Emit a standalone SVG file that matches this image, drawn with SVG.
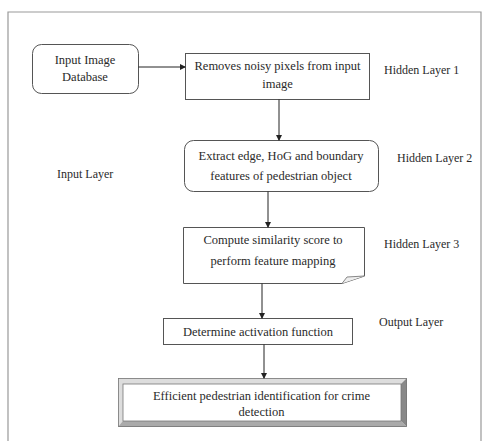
<svg xmlns="http://www.w3.org/2000/svg" width="482" height="441" viewBox="0 0 482 441">
<defs>
<marker id="ah" markerWidth="6" markerHeight="6" refX="5" refY="3" orient="auto" markerUnits="userSpaceOnUse">
<path d="M0,0 L6,3 L0,6 z" fill="#222"/>
</marker>
<style>
text{font-family:'Liberation Serif','DejaVu Serif','Times New Roman',serif;font-size:12.5px;fill:#2a2a2a}
.t{text-anchor:middle}
.l{font-size:12px}
.b{fill:#fff;stroke:#555;stroke-width:1}
.c{stroke:#222;stroke-width:1;fill:none;marker-end:url(#ah)}
</style>
</defs>
<rect width="482" height="441" fill="#fff"/>
<g id="frame">
<path d="M8,441 L8,12 L481,12 L481,441" fill="none" stroke="#999" stroke-width="1.2"/>
</g>
<g id="n1">
<rect class="b" x="32.5" y="44.5" width="106" height="49" rx="9"/>
<text class="t" x="85" y="64">Input Image</text>
<text class="t" x="85" y="81">Database</text>
</g>
<g id="n2">
<rect class="b" x="185.5" y="53.5" width="184" height="46"/>
<text class="t" x="277.5" y="70">Removes noisy pixels from input</text>
<text class="t" x="277.5" y="88">image</text>
</g>
<g id="n3">
<rect class="b" x="184.5" y="140.5" width="194" height="51" rx="9"/>
<text class="t" x="281" y="160">Extract edge, HoG and boundary</text>
<text class="t" x="281" y="180">features of pedestrian object</text>
</g>
<g id="n4">
<path class="b" d="M183.5,227.5 H364.5 V276 L342,283.5 H183.5 Z"/>
<path d="M342,283.5 L347,277 L364.5,276" fill="#eee" stroke="#888" stroke-width="1"/>
<text class="t" x="273" y="244">Compute similarity score to</text>
<text class="t" x="273" y="265">perform feature mapping</text>
</g>
<g id="n5">
<rect class="b" x="163.5" y="318.5" width="189" height="26"/>
<text class="t" x="258" y="336">Determine activation function</text>
</g>
<g id="n6">
<rect x="118" y="378" width="289" height="49" fill="#ddd"/>
<polygon points="401,384 407,378 407,427 401,421" fill="#888"/>
<polygon points="123,421 401,421 407,427 118,427" fill="#aaa"/>
<rect x="123" y="384" width="278" height="37" fill="#fff" stroke="#777" stroke-width="0.8"/>
<rect x="118.5" y="378.5" width="288" height="48" fill="none" stroke="#777" stroke-width="0.8"/>
<text class="t" x="261.5" y="400">Efficient pedestrian identification for crime</text>
<text class="t" x="261.5" y="416">detection</text>
</g>
<g id="labels">
<text class="l" x="384" y="74">Hidden Layer 1</text>
<text class="l" x="397" y="162">Hidden Layer 2</text>
<text class="l" x="57" y="178">Input Layer</text>
<text class="l" x="384" y="248">Hidden Layer 3</text>
<text class="l" x="379" y="326">Output Layer</text>
</g>
<g id="connectors">
<line class="c" x1="138.5" y1="67" x2="185" y2="67"/>
<line class="c" x1="279" y1="99.5" x2="279" y2="140"/>
<line class="c" x1="268" y1="191.5" x2="268" y2="227"/>
<line class="c" x1="262" y1="283.5" x2="262" y2="318"/>
<line class="c" x1="264" y1="344.5" x2="264" y2="378"/>
</g>
</svg>
